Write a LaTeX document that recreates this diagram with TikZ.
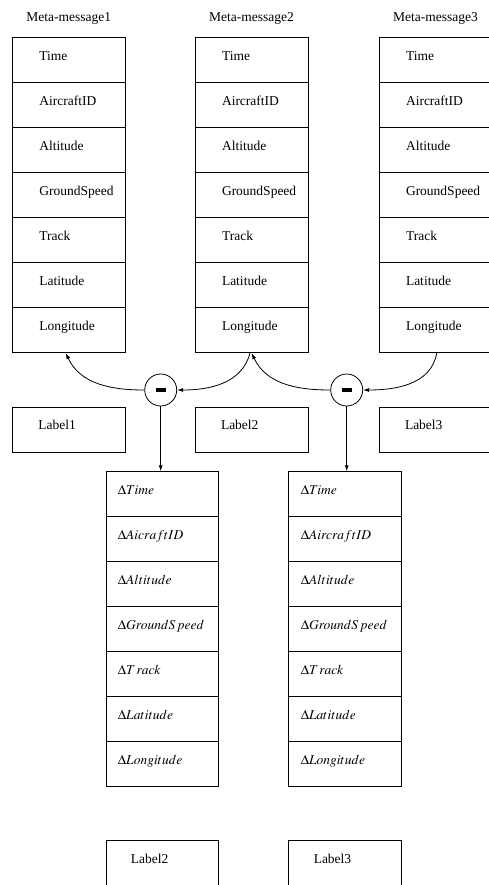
\documentclass[tikz,border=0pt]{standalone}
\usepackage{mathptmx}
\usepackage{fontspec}
\setmainfont{Liberation Serif}
\usetikzlibrary{arrows.meta}
\begin{document}
\begin{tikzpicture}[x=1pt,y=1pt,line width=0.8pt,
  font=\fontsize{13.5}{16}\selectfont,
  cellbase/.style={draw, inner sep=0pt, minimum height=45pt, text height=9pt, text depth=9pt},
  cell/.style={cellbase, execute at begin node={\hbox to 113pt\bgroup\hskip27pt}, execute at end node={\hfil\egroup}},
  lab/.style={cellbase, execute at begin node={\hbox to 113pt\bgroup\hskip26pt}, execute at end node={\hfil\egroup}},
  dcell/.style={cellbase, execute at begin node={\hbox to 112.5pt\bgroup\hskip12pt}, execute at end node={\hfil\egroup}},
  blab/.style={cellbase, execute at begin node={\hbox to 112.5pt\bgroup\hskip25pt}, execute at end node={\hfil\egroup}},
  title/.style={inner sep=0pt},
  op/.style={circle, draw, minimum size=32pt, inner sep=0pt},
  arr/.style={-{Latex[length=6pt,width=4pt]}}
]
\useasboundingbox (0,0) rectangle (489,-885);
\clip (0,0) rectangle (489,-885);
\foreach \c/\x/\t in {1/68.8/Meta-message1, 2/251.5/Meta-message2, 3/435.5/Meta-message3} {
  \node[title] (t\c) at (\x,-18.5) {\t};
  \foreach \f [count=\i] in {Time,AircraftID,Altitude,GroundSpeed,Track,Latitude,Longitude}
    \node[cell] (m\c-\i) at (\x,{-60.2-45*(\i-1)}) {\f};
  \node[lab] (l\c) at (\x,-429.8) {Label\c};
}
\foreach \f [count=\i] in {$\Delta Time$,$\Delta AicraftID$,$\Delta Altitude$,$\Delta GroundS\,peed$,$\Delta T\mkern1.5mu rack$,$\Delta Latitude$,$\Delta Longitude$}
  \node[dcell] (d1-\i) at (162.2,{-494.2-45*(\i-1)}) {\f};
\foreach \f [count=\i] in {$\Delta Time$,$\Delta AircraftID$,$\Delta Altitude$,$\Delta GroundS\,peed$,$\Delta T\mkern1.5mu rack$,$\Delta Latitude$,$\Delta Longitude$}
  \node[dcell] (d2-\i) at (345,{-494.2-45*(\i-1)}) {\f};
\node[blab] (b2) at (162.2,-863.2) {Label2};
\node[blab] (b3) at (345,-863.2) {Label3};
\node[op] (c1) at (160.7,-390) {\rule[-2.15pt]{10pt}{4.3pt}};
\node[op] (c2) at (346.7,-390) {\rule[-2.15pt]{10pt}{4.3pt}};
\draw[arr] (c1.south) -- (c1.south |- d1-1.north);
\draw[arr] (c2.south) -- (c2.south |- d2-1.north);
\draw[arr] (c1.west) to[out=180,in=-65] ([xshift=-3pt]m1-7.south);
\draw[arr] ([xshift=-1.5pt]m2-7.south) to[out=-105,in=0] (c1.east);
\draw[arr] (c2.west) to[out=180,in=-65] ([xshift=0.2pt]m2-7.south);
\draw[arr] ([xshift=1.2pt]m3-7.south) to[out=-100,in=0] (c2.east);
\end{tikzpicture}
\end{document}
